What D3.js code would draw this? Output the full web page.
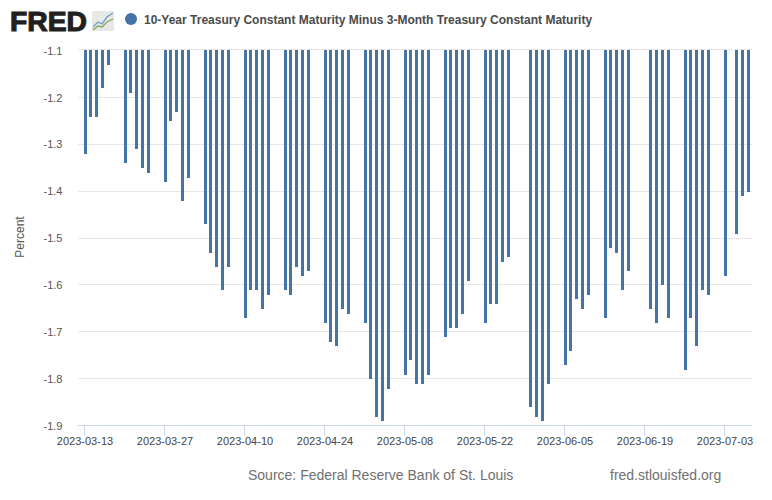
<!DOCTYPE html>
<html><head><meta charset="utf-8">
<script src="https://cdn.jsdelivr.net/npm/d3@7"></script>
<style>html,body{margin:0;padding:0;background:#fff}svg{display:block}text{font-family:"Liberation Sans",Arial,sans-serif}</style>
</head><body><svg id="c" width="772" height="500"></svg>
<script>
const seriesTitle = "10-Year Treasury Constant Maturity Minus 3-Month Treasury Constant Maturity";
const dates = [
"2023-03-13","2023-03-14","2023-03-15","2023-03-16","2023-03-17",
"2023-03-20","2023-03-21","2023-03-22","2023-03-23","2023-03-24",
"2023-03-27","2023-03-28","2023-03-29","2023-03-30","2023-03-31",
"2023-04-03","2023-04-04","2023-04-05","2023-04-06","2023-04-07",
"2023-04-10","2023-04-11","2023-04-12","2023-04-13","2023-04-14",
"2023-04-17","2023-04-18","2023-04-19","2023-04-20","2023-04-21",
"2023-04-24","2023-04-25","2023-04-26","2023-04-27","2023-04-28",
"2023-05-01","2023-05-02","2023-05-03","2023-05-04","2023-05-05",
"2023-05-08","2023-05-09","2023-05-10","2023-05-11","2023-05-12",
"2023-05-15","2023-05-16","2023-05-17","2023-05-18","2023-05-19",
"2023-05-22","2023-05-23","2023-05-24","2023-05-25","2023-05-26",
"2023-05-30","2023-05-31","2023-06-01","2023-06-02",
"2023-06-05","2023-06-06","2023-06-07","2023-06-08","2023-06-09",
"2023-06-12","2023-06-13","2023-06-14","2023-06-15","2023-06-16",
"2023-06-20","2023-06-21","2023-06-22","2023-06-23",
"2023-06-26","2023-06-27","2023-06-28","2023-06-29","2023-06-30",
"2023-07-03","2023-07-05","2023-07-06","2023-07-07"];
const values = [
-1.32,-1.24,-1.24,-1.18,-1.13,
-1.34,-1.19,-1.31,-1.35,-1.36,
-1.38,-1.25,-1.23,-1.42,-1.37,
-1.47,-1.53,-1.56,-1.61,-1.56,
-1.67,-1.61,-1.61,-1.65,-1.62,
-1.61,-1.62,-1.56,-1.58,-1.57,
-1.68,-1.72,-1.73,-1.65,-1.66,
-1.68,-1.80,-1.88,-1.89,-1.82,
-1.79,-1.76,-1.81,-1.81,-1.79,
-1.71,-1.69,-1.69,-1.66,-1.59,
-1.68,-1.64,-1.64,-1.55,-1.54,
-1.86,-1.88,-1.89,-1.81,
-1.77,-1.74,-1.63,-1.65,-1.62,
-1.67,-1.52,-1.53,-1.61,-1.57,
-1.65,-1.68,-1.60,-1.67,
-1.78,-1.67,-1.73,-1.61,-1.62,
-1.58,-1.49,-1.41,-1.40];
const yTicks = [-1.1,-1.2,-1.3,-1.4,-1.5,-1.6,-1.7,-1.8,-1.9];
const xTickLabels = ["2023-03-13","2023-03-27","2023-04-10","2023-04-24","2023-05-08","2023-05-22","2023-06-05","2023-06-19","2023-07-03"];

const parse = d3.utcParse("%Y-%m-%d");
const svg = d3.select("#c");
const plotL = 78, plotR = 752, plotT = 49, barT = 50;
const x = d3.scaleUtc().domain([parse("2023-03-13"), parse("2023-07-03")]).range([84.4, 724.4]);
const y = d3.scaleLinear().domain([-1.1, -1.9]).range([49.9, 425.1]);
const gridY = d => d === yTicks[0] ? plotT + .5 : Math.round(y(d)) + .5;

// grid + y labels
const yAxis = d3.axisLeft(y).tickValues(yTicks).tickFormat(d3.format(".1f")).tickSize(0).tickPadding(0).offset(0);
const gy = svg.append("g").attr("transform", "translate(62.5,0)").call(yAxis);
gy.select(".domain").remove();
gy.selectAll("text").attr("font-size", 11).attr("fill", "#555").attr("font-family", '"Liberation Sans"').attr("dy", "0.32em").attr("y", 1.2).text(d => d3.format(".1f")(d).replace("−", "-"));
svg.append("g").selectAll("line").data(yTicks.slice(0, -1)).join("line")
  .attr("x1", plotL).attr("x2", plotR).attr("y1", gridY).attr("y2", gridY)
  .attr("stroke", "#e6e6e6");

// x axis
const xAxis = d3.axisBottom(x).tickValues(xTickLabels.map(parse)).tickFormat(d3.utcFormat("%Y-%m-%d")).tickSize(10).tickPadding(2).offset(0);
const gx = svg.append("g").attr("transform", "translate(0,425.5)").call(xAxis);
gx.select(".domain").remove();
svg.append("line").attr("x1", plotL).attr("x2", plotR).attr("y1", 425.5).attr("y2", 425.5).attr("stroke", "#ccd6eb");
gx.selectAll("line").attr("stroke", "#ccd6eb").attr("x1", 0).attr("x2", 0);
gx.selectAll(".tick").attr("transform", d => `translate(${Math.floor(x(d)) + .5},0)`);
gx.selectAll("text").attr("font-size", 11).attr("fill", "#444").attr("font-family", '"Liberation Sans"').attr("dx", 0.5);

// bars
svg.append("g").attr("shape-rendering", "crispEdges").selectAll("rect")
  .data(dates.map((d, i) => ({date: parse(d), v: values[i]}))).join("rect")
  .attr("x", d => Math.round(x(d.date) - 0.7))
  .attr("width", 3)
  .attr("y", barT)
  .attr("height", d => Math.round(y(d.v) + 1) - barT)
  .attr("fill", "#4572a7");

// y title
svg.append("text").attr("transform", "translate(24,237) rotate(-90)").attr("text-anchor", "middle")
  .attr("font-size", 12).attr("fill", "#555").text("Percent");

// legend
svg.append("circle").attr("cx", 131).attr("cy", 19).attr("r", 6).attr("fill", "#4572a7");
svg.append("text").attr("x", 144).attr("y", 23.5).attr("font-size", 12).attr("font-weight", "bold").attr("fill", "#4a4a4a").text(seriesTitle);

// footer
svg.append("text").attr("x", 248).attr("y", 480).attr("font-size", 14).attr("fill", "#707070").text("Source: Federal Reserve Bank of St. Louis");
svg.append("text").attr("x", 610).attr("y", 480).attr("font-size", 14).attr("fill", "#707070").text("fred.stlouisfed.org");

// FRED logo
svg.append("text").attr("x", 10).attr("y", 31).attr("font-size", 28).attr("font-weight", "bold")
  .attr("fill", "#231f20").attr("stroke", "#231f20").attr("stroke-width", 1.1).attr("textLength", 77).attr("lengthAdjust", "spacingAndGlyphs").text("FRED");
const logo = svg.append("g").attr("transform", "translate(92,11)");
logo.append("rect").attr("width", 22).attr("height", 20).attr("rx", 1).attr("fill", "#e8e8e6");
logo.append("polyline").attr("points", "1,16 6,11 10,13 15,6 21,2").attr("fill", "none").attr("stroke", "#6f9cc2").attr("stroke-width", 1.3);
logo.append("polyline").attr("points", "1,19 6,15 10,16 15,11 21,8").attr("fill", "none").attr("stroke", "#7fa85c").attr("stroke-width", 1.3);
</script></body></html>
